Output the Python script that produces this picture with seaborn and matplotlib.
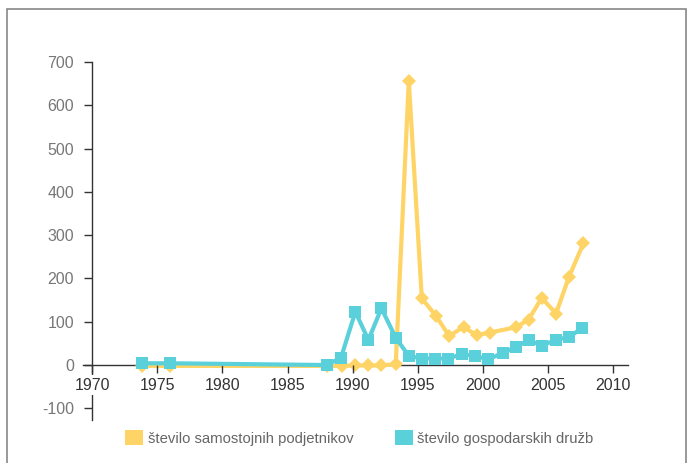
import matplotlib
matplotlib.use('Agg')
import matplotlib.pyplot as plt
from matplotlib.patches import Patch, Rectangle
import numpy as np
import pandas as pd
import seaborn as sns

# data
samostojni_years = [1973.8, 1976.0, 1988.0, 1989.2, 1990.2, 1991.2, 1992.2, 1993.3,
                    1994.3, 1995.3, 1996.4, 1997.4, 1998.5, 1999.5, 2000.5,
                    2002.5, 2003.5, 2004.5, 2005.6, 2006.6, 2007.7]
samostojni_values = [-2, -2, -2, -2, -1, -1, -1, 2,
                     657, 154, 113, 67, 88, 69, 75,
                     87, 105, 155, 119, 204, 281]

druzbe_years = [1973.8, 1976.0, 1988.0, 1989.1, 1990.2, 1991.2, 1992.2, 1993.3,
                1994.3, 1995.3, 1996.3, 1997.3, 1998.4, 1999.4, 2000.4,
                2001.5, 2002.5, 2003.5, 2004.5, 2005.6, 2006.6, 2007.6]
druzbe_values = [4, 4, 0, 17, 123, 58, 131, 63,
                 21, 15, 15, 15, 25, 21, 13,
                 28, 41, 58, 45, 58, 65, 85]

labels = ["število samostojnih podjetnikov", "število gospodarskih družb"]
x_ticks = list(range(1970, 2011, 5))
y_ticks = list(range(-100, 701, 100))

YELLOW = '#FFD466'
CYAN = '#5AD0DB'

sns.set_style("white")
plt.rcParams['font.family'] = ['Liberation Sans', 'DejaVu Sans']
plt.rcParams['axes.unicode_minus'] = False

fig = plt.figure(figsize=(6.87, 4.63), dpi=100)
ax = fig.add_axes([83 / 687, 1 - 420 / 463, (627.7 - 83) / 687, (420 - 62) / 463])

df_s = pd.DataFrame({'year': samostojni_years, 'value': samostojni_values})
df_d = pd.DataFrame({'year': druzbe_years, 'value': druzbe_values})

sns.lineplot(data=df_s, x='year', y='value', ax=ax, color=YELLOW, linewidth=3,
             marker='D', markersize=7.5, markeredgewidth=0, clip_on=False, zorder=3)
sns.lineplot(data=df_d, x='year', y='value', ax=ax, color=CYAN, linewidth=3,
             marker='s', markersize=8.5, markeredgewidth=0, clip_on=False, zorder=4)

ax.set_xlim(1969.3, 2011.1)
ax.set_ylim(-127, 700)
ax.set_xticks(x_ticks)
ax.set_yticks(y_ticks)
ax.set_xlabel("")
ax.set_ylabel("")

for side in ['top', 'right']:
    ax.spines[side].set_visible(False)
ax.spines['bottom'].set_position(('data', 0))
ax.spines['left'].set_position(('data', 1970))
ax.spines['left'].set_bounds(-127, 700)
for side in ['bottom', 'left']:
    ax.spines[side].set_color('#333333')
    ax.spines[side].set_linewidth(1.0)

ax.tick_params(axis='x', bottom=True, direction='out', length=6, width=1.0,
               color='#333333', labelsize=11.5, labelcolor='#333333', pad=3)
ax.tick_params(axis='y', left=True, direction='out', length=6, width=1.0,
               color='#333333', labelsize=11.5, labelcolor='#777777', pad=7)
ax.xaxis.set_zorder(3)
for lbl in ax.get_xticklabels():
    lbl.set_bbox(dict(facecolor='white', edgecolor='none', pad=1.5))

handles = [Patch(facecolor=YELLOW, edgecolor='none'),
           Patch(facecolor=CYAN, edgecolor='none')]
leg = fig.legend(handles, labels, loc='center', bbox_to_anchor=(0.523, 1 - 438 / 463),
                 ncol=2, frameon=False, fontsize=10.7, handlelength=1.2,
                 handleheight=1.2, handletextpad=0.3, columnspacing=2.8)
for t in leg.get_texts():
    t.set_color('#666666')

fig.patches.append(Rectangle((6.5 / 687, -0.1), (685.5 - 6.5) / 687, 1.1 - 9 / 463,
                             transform=fig.transFigure, fill=False,
                             edgecolor='#888888', linewidth=1.2))

fig.savefig('out.png', dpi=100)
plt.close(fig)
